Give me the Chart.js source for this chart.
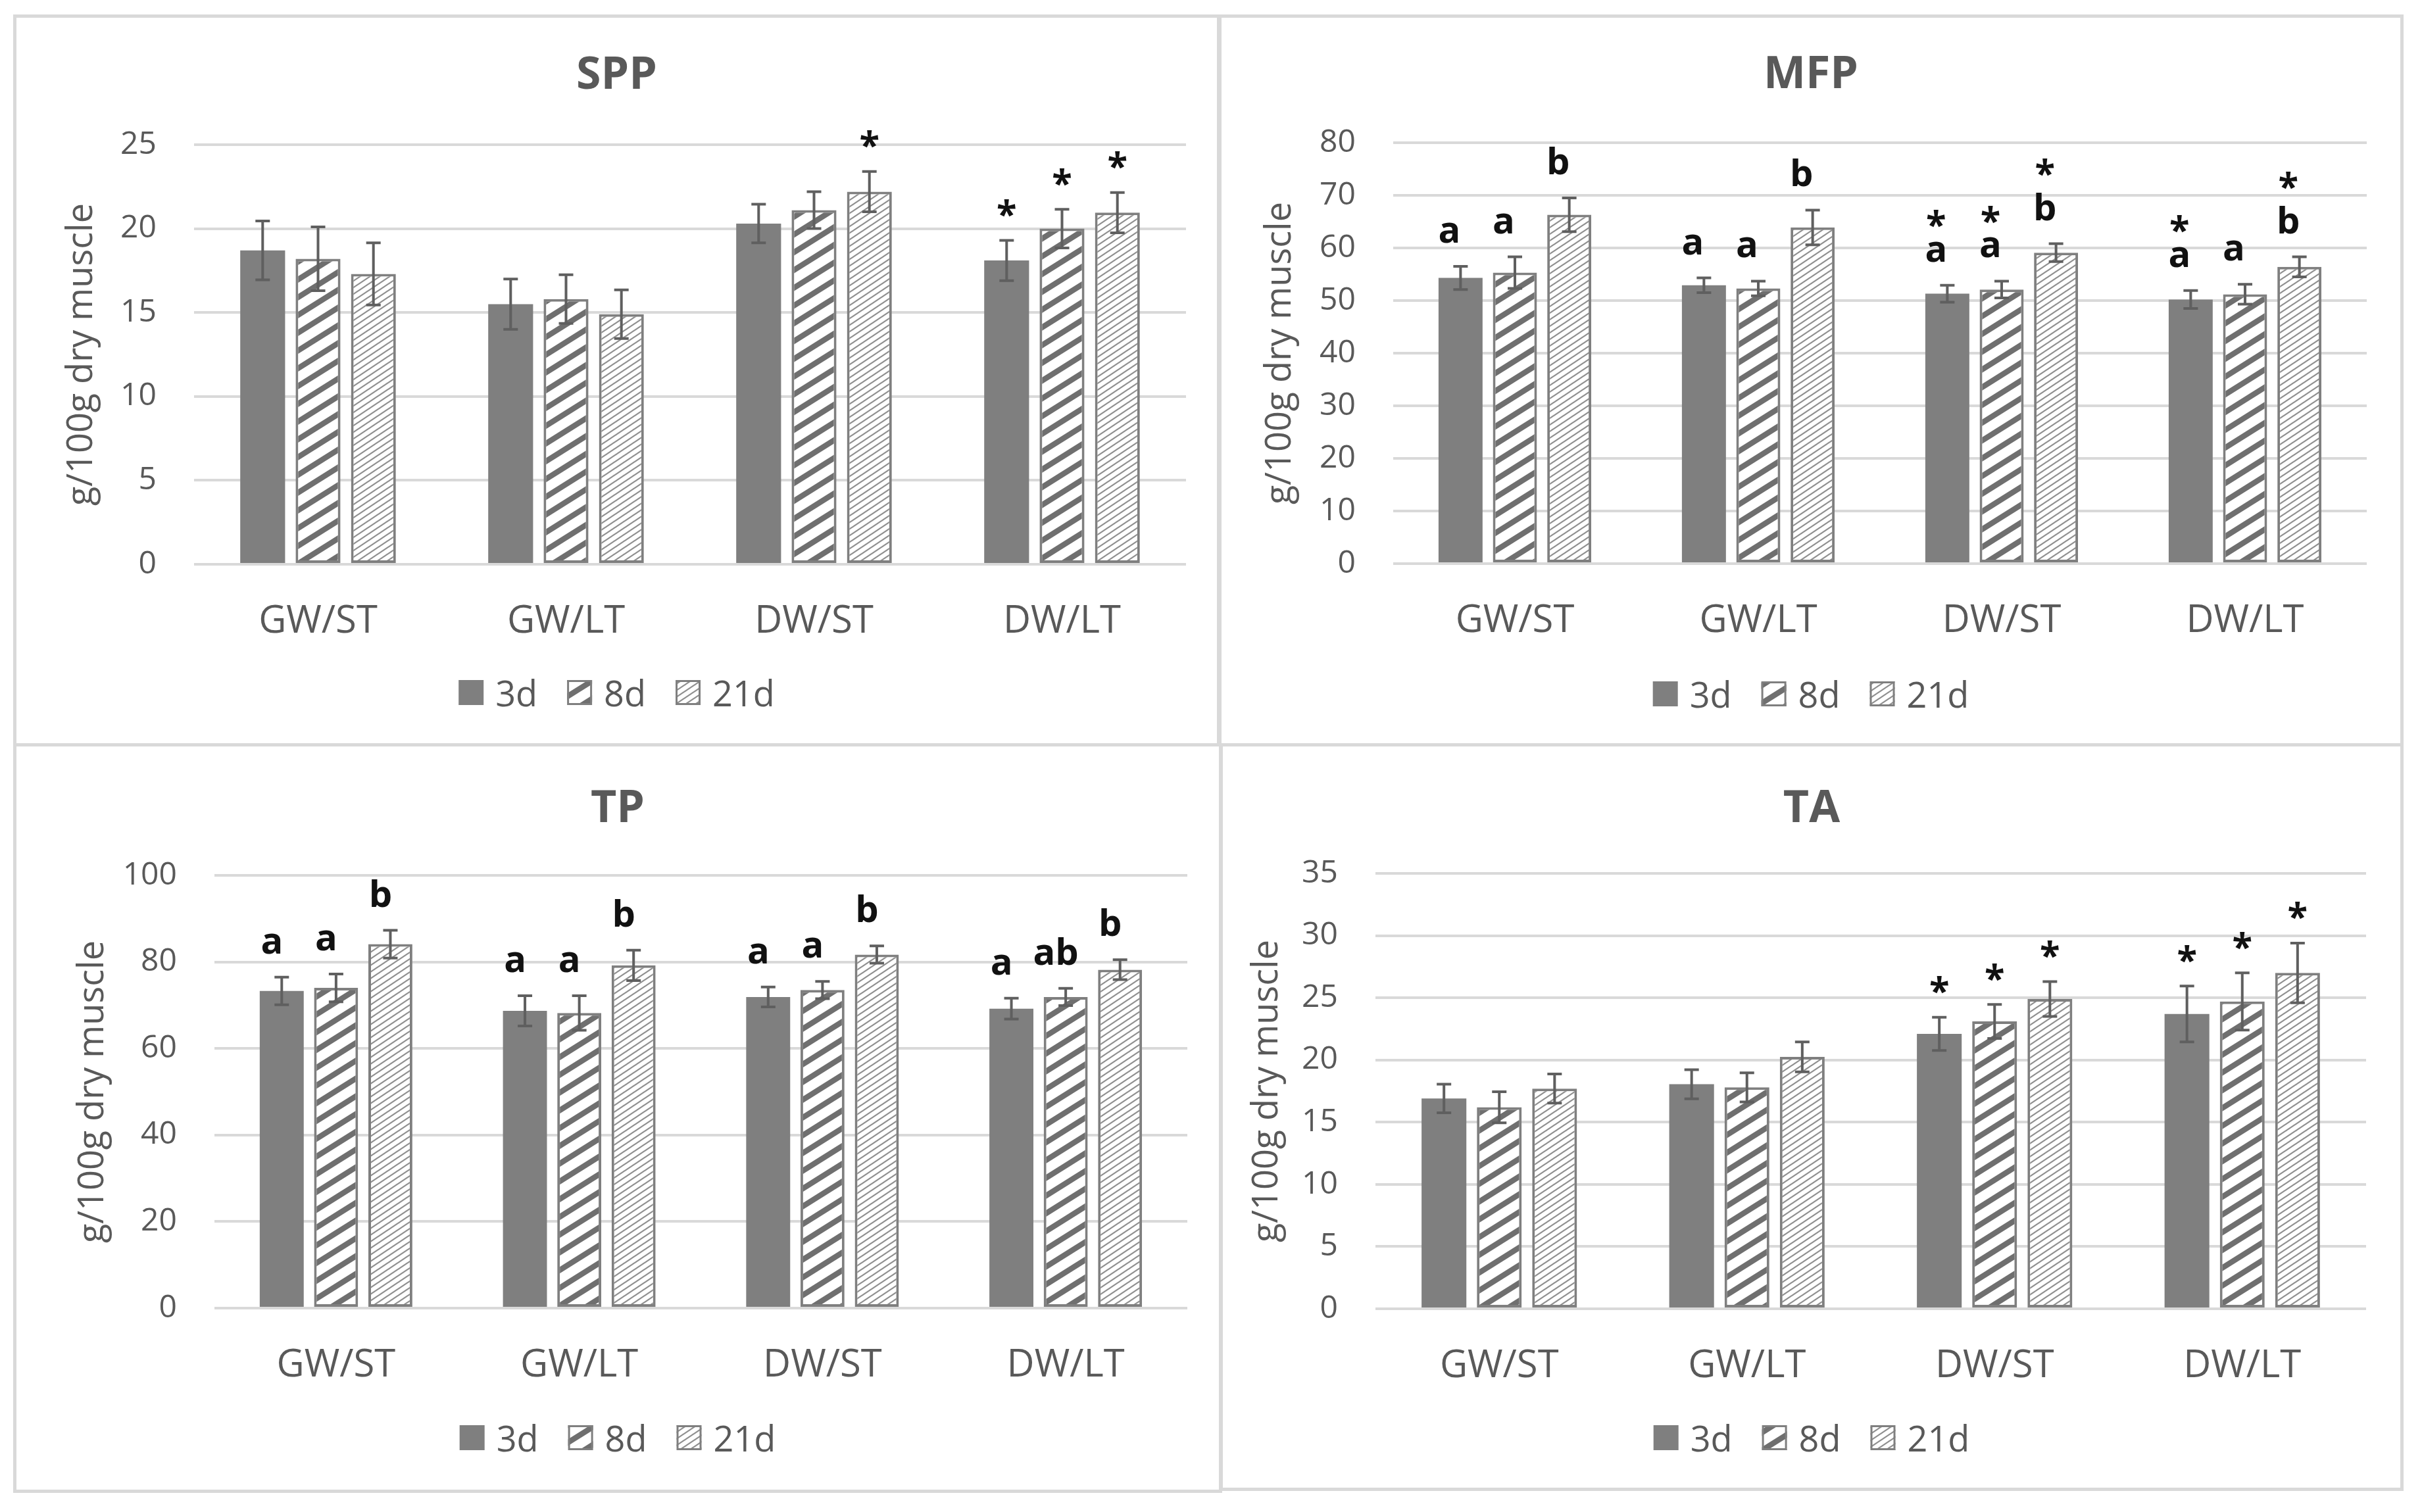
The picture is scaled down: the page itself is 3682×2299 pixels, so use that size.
<!DOCTYPE html>
<html>
<head>
<meta charset="utf-8">
<script src="https://cdn.jsdelivr.net/npm/chart.js@4.4.0/dist/chart.umd.min.js"></script>
<style>
html, body { margin: 0; padding: 0; background: #fff; }
body { width: 3682px; height: 2299px; position: relative; overflow: hidden; }
canvas { position: absolute; }
.frame { position: absolute; box-sizing: border-box; border: 5px solid #d9d9d9; pointer-events: none; }
</style>
</head>
<body>
<script>
// --- Data ---
const groups = ['GW/ST', 'GW/LT', 'DW/ST', 'DW/LT'];
const days = ['3d', '8d', '21d'];

// SPP
const spp3d = [18.7, 15.5, 20.3, 18.1];
const spp8d = [18.2, 15.8, 21.1, 20.0];
const spp21d = [17.3, 14.9, 22.2, 20.95];
const sppErr3d = [1.75, 1.5, 1.15, 1.2];
const sppErr8d = [1.9, 1.45, 1.1, 1.15];
const sppErr21d = [1.85, 1.45, 1.2, 1.2];
const sppMarks3d = ['', '', '', '*'];
const sppMarks8d = ['', '', '', '*'];
const sppMarks21d = ['', '', '*', '*'];

// MFP
const mfp3d = [54.3, 52.9, 51.3, 50.2];
const mfp8d = [55.3, 52.3, 52.1, 51.2];
const mfp21d = [66.3, 63.9, 59.1, 56.4];
const mfpErr3d = [2.2, 1.4, 1.6, 1.7];
const mfpErr8d = [3.0, 1.4, 1.6, 1.9];
const mfpErr21d = [3.2, 3.3, 1.7, 1.9];
const mfpMarks3d = ['a', 'a', '*\na', '*\na'];
const mfpMarks8d = ['a', 'a', '*\na', 'a'];
const mfpMarks21d = ['b', 'b', '*\nb', '*\nb'];

// TP
const tp3d = [73.3, 68.7, 71.9, 69.2];
const tp8d = [74.0, 68.2, 73.5, 71.9];
const tp21d = [84.1, 79.2, 81.7, 78.2];
const tpErr3d = [3.2, 3.5, 2.3, 2.4];
const tpErr8d = [3.2, 4.0, 2.0, 2.0];
const tpErr21d = [3.2, 3.5, 2.0, 2.3];
const tpMarks3d = ['a', 'a', 'a', 'a'];
const tpMarks8d = ['a', 'a', 'a', 'ab'];
const tpMarks21d = ['b', 'b', 'b', 'b'];

// TA
const ta3d = [16.9, 18.05, 22.1, 23.7];
const ta8d = [16.2, 17.8, 23.1, 24.7];
const ta21d = [17.7, 20.25, 24.9, 27.0];
const taErr3d = [1.15, 1.17, 1.33, 2.25];
const taErr8d = [1.25, 1.17, 1.37, 2.3];
const taErr21d = [1.17, 1.2, 1.4, 2.4];
const taMarks3d = ['', '', '*', '*'];
const taMarks8d = ['', '', '*', '*'];
const taMarks21d = ['', '', '*', '*'];

const yAxisTitle = 'g/100g dry muscle';

// --- Styles ---
const FONT = "'Open Sans', 'Noto Sans', sans-serif";
const TEXT = '#595959';
const BAR = '#7f7f7f';

function makePattern(w, h, lw, color) {
    const c = document.createElement('canvas');
    c.width = w; c.height = h;
    const g = c.getContext('2d');
    g.fillStyle = '#fff';
    g.fillRect(0, 0, w, h);
    g.strokeStyle = color;
    g.lineWidth = lw;
    for (let k = -2; k <= 2; k++) {
        g.beginPath();
        g.moveTo(-w, 2 * h + k * h);
        g.lineTo(2 * w, -h + k * h);
        g.stroke();
    }
    return g.createPattern(c, 'repeat');
}
const ctx0 = document.createElement('canvas').getContext('2d');
const wideStripe = makePattern(43, 27, 8.5, '#6f6f6f');
const fineStripe = makePattern(15, 10, 2.2, '#8f8f8f');
const fills = [BAR, wideStripe, fineStripe];

// panel boxes and plot-area edges, page pixels
const panels = [
    { name: 'SPP', x: 20, y: 22, w: 1835, h: 1113, l: 295, r: 1803, t: 220, b: 858, max: 25, step: 5,
      titleY: 88, yTitleX: 105, legendY: 1031, shift: 0,
      series: [[spp3d, sppErr3d, sppMarks3d], [spp8d, sppErr8d, sppMarks8d], [spp21d, sppErr21d, sppMarks21d]] },
    { name: 'MFP', x: 1852, y: 22, w: 1802, h: 1113, l: 2118, r: 3598, t: 217, b: 857, max: 80, step: 10,
      titleY: 87, yTitleX: 95, legendY: 1033, shift: -17,
      series: [[mfp3d, mfpErr3d, mfpMarks3d], [mfp8d, mfpErr8d, mfpMarks8d], [mfp21d, mfpErr21d, mfpMarks21d]] },
    { name: 'TP', x: 20, y: 1130, w: 1838, h: 1140, l: 326, r: 1805, t: 1331, b: 1989, max: 100, step: 20,
      titleY: 95, yTitleX: 122, legendY: 1056, shift: -15,
      series: [[tp3d, tpErr3d, tpMarks3d], [tp8d, tpErr8d, tpMarks8d], [tp21d, tpErr21d, tpMarks21d]] },
    { name: 'TA', x: 1854, y: 1130, w: 1800, h: 1137, l: 2091, r: 3597, t: 1328, b: 1990, max: 35, step: 5,
      titleY: 95, yTitleX: 73, legendY: 1056, shift: -6,
      series: [[ta3d, taErr3d, taMarks3d], [ta8d, taErr8d, taMarks8d], [ta21d, taErr21d, taMarks21d]] }
];

function drawCentered(ctx, text, x, cy) {
    const m = ctx.measureText(text);
    ctx.fillText(text, x, cy - (m.actualBoundingBoxDescent - m.actualBoundingBoxAscent) / 2);
}

function decor(p) {
    return {
        id: 'decor',
        afterDatasetsDraw(chart) {
            const ctx = chart.ctx;
            const ys = chart.scales.y;
            ctx.save();
            p.series.forEach(([mean, err, marks], di) => {
                chart.getDatasetMeta(di).data.forEach((bar, i) => {
                    const top = ys.getPixelForValue(mean[i] + err[i]);
                    const bot = ys.getPixelForValue(mean[i] - err[i]);
                    // error bar
                    ctx.strokeStyle = '#5f5f5f';
                    ctx.lineWidth = 4;
                    ctx.beginPath();
                    ctx.moveTo(bar.x, top); ctx.lineTo(bar.x, bot);
                    ctx.moveTo(bar.x - 11, top); ctx.lineTo(bar.x + 11, top);
                    ctx.moveTo(bar.x - 11, bot); ctx.lineTo(bar.x + 11, bot);
                    ctx.stroke();

                    // significance marks
                    const mark = marks[i];
                    if (!mark) return;
                    ctx.fillStyle = '#111';
                    ctx.font = 'bold 56px ' + FONT;
                    ctx.textAlign = 'center';
                    ctx.textBaseline = 'alphabetic';
                    const mx = bar.x + p.shift;
                    const parts = mark.split('\n');
                    const letter = parts[parts.length - 1];
                    if (letter === '*') {
                        drawCentered(ctx, '*', bar.x, top - 49);
                        return;
                    }
                    const base = top - 36;
                    ctx.fillText(letter, mx, base);
                    if (parts.length > 1) {
                        drawCentered(ctx, '*', mx, base - (letter.includes('b') ? 80 : 65));
                    }
                });
            });
            ctx.restore();
        },
        afterDraw(chart) {
            const ctx = chart.ctx;
            const cx = p.w / 2;
            ctx.save();
            ctx.fillStyle = TEXT;
            ctx.textAlign = 'center';
            ctx.textBaseline = 'alphabetic';

            // title
            ctx.font = 'bold 68px ' + FONT;
            drawCentered(ctx, p.name, cx, p.titleY);

            // y-axis title
            ctx.font = '54px ' + FONT;
            ctx.save();
            ctx.translate(p.yTitleX, (p.t + p.b) / 2 - p.y);
            ctx.rotate(-Math.PI / 2);
            ctx.textBaseline = 'middle';
            ctx.fillText(yAxisTitle, 0, 0);
            ctx.restore();

            // legend
            ctx.font = '54px ' + FONT;
            const box = 38, gap = 18, itemGap = 45;
            const widths = days.map(d => ctx.measureText(d).width);
            let total = 0;
            widths.forEach((w, i) => { total += box + gap + w + (i < days.length - 1 ? itemGap : 0); });
            let lx = cx - total / 2;
            const ly = p.legendY;
            days.forEach((d, i) => {
                ctx.fillStyle = fills[i];
                ctx.fillRect(lx, ly - box / 2, box, box);
                if (i > 0) {
                    ctx.strokeStyle = BAR;
                    ctx.lineWidth = 3;
                    ctx.strokeRect(lx + 1.5, ly - box / 2 + 1.5, box - 3, box - 3);
                }
                ctx.fillStyle = TEXT;
                ctx.textAlign = 'left';
                drawCentered(ctx, d, lx + box + gap, ly);
                lx += box + gap + widths[i] + itemGap;
            });
            ctx.restore();
        }
    };
}

function makeChart(p) {
    const canvas = document.createElement('canvas');
    canvas.width = p.w;
    canvas.height = p.h;
    canvas.style.left = p.x + 'px';
    canvas.style.top = p.y + 'px';
    canvas.style.width = p.w + 'px';
    canvas.style.height = p.h + 'px';
    document.body.appendChild(canvas);

    const frame = document.createElement('div');
    frame.className = 'frame';
    frame.style.cssText = `left:${p.x}px;top:${p.y}px;width:${p.w}px;height:${p.h}px`;
    document.body.appendChild(frame);

    const xH = 150;
    new Chart(canvas, {
        type: 'bar',
        data: {
            labels: groups,
            datasets: p.series.map(([mean], i) => ({
                label: days[i],
                data: mean,
                backgroundColor: fills[i],
                borderColor: BAR,
                borderWidth: i === 0 ? 0 : 4,
                borderSkipped: false,
                barPercentage: 0.81,
                categoryPercentage: 0.67
            }))
        },
        options: {
            responsive: false,
            animation: false,
            devicePixelRatio: 1,
            layout: {
                padding: {
                    left: 0,
                    top: p.t - p.y,
                    right: p.x + p.w - p.r,
                    bottom: p.y + p.h - p.b - xH
                }
            },
            plugins: {
                legend: { display: false },
                title: { display: false },
                tooltip: { enabled: false }
            },
            scales: {
                x: {
                    grid: { display: false },
                    border: { display: false },
                    ticks: { color: TEXT, font: { family: FONT, size: 58 }, padding: 45, maxRotation: 0, autoSkip: false },
                    afterFit: s => { s.height = xH; }
                },
                y: {
                    min: 0,
                    max: p.max,
                    ticks: { stepSize: p.step, color: TEXT, font: { family: FONT, size: 48 }, padding: 57 },
                    grid: { color: '#d9d9d9', lineWidth: 4, drawTicks: false },
                    border: { display: false },
                    afterFit: s => { s.width = p.l - p.x; }
                }
            }
        },
        plugins: [decor(p)]
    });
}

panels.forEach(makeChart);
</script>
</body>
</html>
